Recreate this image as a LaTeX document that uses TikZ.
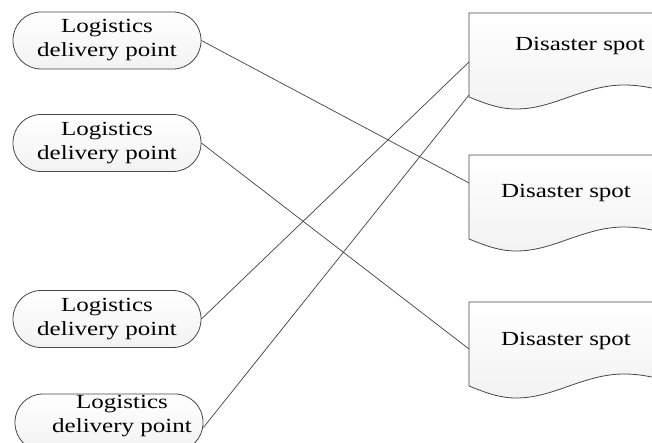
\documentclass[tikz,border=0pt]{standalone}
\usepackage{fontspec}
\setmainfont[FakeStretch=1.25]{Liberation Serif}
\begin{document}
\begin{tikzpicture}[x=1pt,y=-1pt,
  every node/.style={font=\fontsize{20}{24}\selectfont},
  shapeline/.style={draw=black!72, line width=0.8pt, top color=white, bottom color=black!5},
  lpoint/.style={shapeline, rectangle, rounded corners=28pt, minimum width=188pt, minimum height=57pt, inner sep=0pt, align=center},
  link/.style={draw=black!75, line width=0.7pt},
  docpic/.pic={
    \path[shapeline] (0,0) -- (215,0) -- (215,84) sin (155,72) cos (100,84) sin (47,96) cos (0,84) -- cycle;
  }]
\useasboundingbox (0,0) rectangle (652,443);
\clip (0,0) rectangle (652,443);
% left nodes
\node[lpoint] (l1) at (107,40.5) {Logistics\\delivery point};
\node[lpoint] (l2) at (107,143) {Logistics\\delivery point};
\node[lpoint] (l3) at (107,319) {Logistics\\delivery point};
\node[lpoint] (l4) at (109,422.5) {};
\node[anchor=base, align=center] (l4t) at (122,432) {Logistics\\delivery point};
% right documents
\pic at (469,13) {docpic};
\pic at (469,155) {docpic};
\pic at (469,302) {docpic};
\node[anchor=base] (d1) at (580,51) {Disaster spot};
\node[anchor=base] (d2) at (566,198) {Disaster spot};
\node[anchor=base] (d3) at (566,345) {Disaster spot};
\coordinate (a1) at (469,62);
\coordinate (a2) at (469,95);
\coordinate (b1) at (469,183);
\coordinate (c1) at (469,349);
% connectors
\draw[link] (l1.east) -- (b1);
\draw[link] (l2.east) -- (c1);
\draw[link] (l3.east) -- (a1);
\draw[link] ([yshift=-5pt]l4.east) -- (a2);
\end{tikzpicture}
\end{document}
